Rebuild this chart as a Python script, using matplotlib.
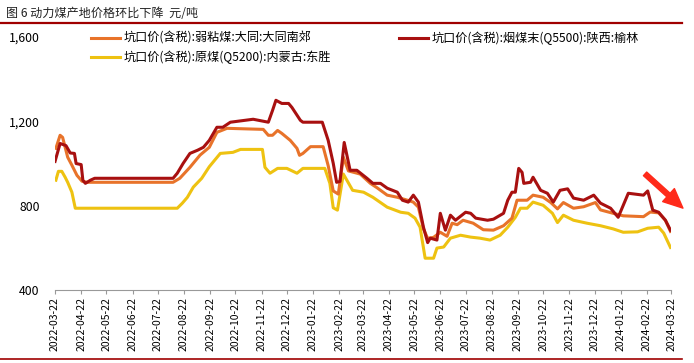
import pandas as pd
import numpy as np
import matplotlib
matplotlib.use('Agg')
import matplotlib.pyplot as plt
import matplotlib.dates as mdates
import matplotlib.ticker as mticker

plt.rcParams['font.family'] = ['Noto Sans CJK SC', 'DejaVu Sans']

# 坑口价(含税):烟煤末(Q5500):陕西:榆林
red_dates = ['2022-03-22', '2022-03-28', '2022-04-04', '2022-04-09', '2022-04-14', '2022-04-16',
             '2022-04-22', '2022-04-24', '2022-04-27', '2022-05-03', '2022-05-08', '2022-08-09',
             '2022-08-14', '2022-08-21', '2022-08-29', '2022-09-07', '2022-09-14', '2022-09-21',
             '2022-09-30', '2022-10-07', '2022-10-16', '2022-11-12', '2022-11-30', '2022-12-05',
             '2022-12-09', '2022-12-16', '2022-12-24', '2022-12-28', '2023-01-07', '2023-01-10',
             '2023-02-02', '2023-02-09', '2023-02-15', '2023-02-19', '2023-02-23', '2023-02-28',
             '2023-03-07', '2023-03-15', '2023-03-27', '2023-04-03', '2023-04-12', '2023-04-20',
             '2023-05-02', '2023-05-08', '2023-05-15', '2023-05-21', '2023-05-27', '2023-06-02',
             '2023-06-07', '2023-06-10', '2023-06-18', '2023-06-22', '2023-06-28', '2023-07-04',
             '2023-07-10', '2023-07-22', '2023-07-28', '2023-08-03', '2023-08-17', '2023-08-24',
             '2023-09-05', '2023-09-10', '2023-09-15', '2023-09-19', '2023-09-23', '2023-09-27',
             '2023-09-29', '2023-10-07', '2023-10-10', '2023-10-19', '2023-10-27', '2023-11-03',
             '2023-11-11', '2023-11-20', '2023-11-27', '2023-12-09', '2023-12-21', '2023-12-29',
             '2024-01-10', '2024-01-19', '2024-01-31', '2024-02-18', '2024-02-23', '2024-02-29',
             '2024-03-07', '2024-03-15', '2024-03-21']
red_vals = [1010, 1095, 1085, 1050, 1048, 1000, 995, 921, 906, 921, 930, 930,
            954, 1001, 1048, 1063, 1077, 1110, 1172, 1172, 1196, 1210, 1196, 1252,
            1300, 1285, 1285, 1266, 1205, 1196, 1196, 1110, 1001, 911, 915, 1100,
            968, 968, 930, 906, 906, 883, 864, 826, 817, 850, 817, 698,
            625, 646, 637, 764, 684, 755, 731, 769, 764, 741, 731, 736,
            764, 826, 864, 864, 977, 958, 906, 911, 935, 873, 859, 817,
            873, 880, 836, 826, 850, 812, 788, 745, 859, 850, 870, 779,
            769, 731, 684]

# 坑口价(含税):弱粘煤:大同:大同南郊
orange_dates = ['2022-03-23', '2022-03-28', '2022-03-31', '2022-04-06', '2022-04-11', '2022-04-17',
                '2022-04-23', '2022-04-29', '2022-08-09', '2022-08-17', '2022-08-29', '2022-09-10',
                '2022-09-21', '2022-09-30', '2022-10-12', '2022-11-24', '2022-11-30', '2022-12-05',
                '2022-12-11', '2022-12-16', '2022-12-26', '2023-01-03', '2023-01-06', '2023-01-10',
                '2023-01-19', '2023-02-03', '2023-02-09', '2023-02-15', '2023-02-21', '2023-02-27',
                '2023-03-05', '2023-03-19', '2023-03-31', '2023-04-08', '2023-04-20', '2023-05-02',
                '2023-05-14', '2023-05-21', '2023-05-27', '2023-06-02', '2023-06-07', '2023-06-14',
                '2023-06-22', '2023-06-30', '2023-07-06', '2023-07-12', '2023-07-19', '2023-07-31',
                '2023-08-12', '2023-08-24', '2023-09-05', '2023-09-15', '2023-09-21', '2023-10-03',
                '2023-10-10', '2023-10-22', '2023-10-31', '2023-11-08', '2023-11-15', '2023-11-27',
                '2023-12-09', '2023-12-23', '2023-12-29', '2024-01-13', '2024-01-25', '2024-02-18',
                '2024-02-26', '2024-03-07', '2024-03-15', '2024-03-21']
orange_vals = [1072, 1134, 1124, 1030, 992, 944, 916, 911, 911, 930, 982, 1040,
               1077, 1148, 1167, 1162, 1134, 1134, 1157, 1143, 1110, 1072, 1039, 1048,
               1080, 1080, 990, 870, 855, 1030, 965, 950, 906, 885, 850, 840,
               826, 817, 793, 690, 645, 650, 674, 655, 717, 710, 731, 717,
               686, 684, 705, 741, 826, 826, 850, 840, 815, 785, 815, 788,
               795, 815, 780, 764, 752, 748, 770, 766, 731, 678]

# 坑口价(含税):原煤(Q5200):内蒙古:东胜
yellow_dates = ['2022-03-23', '2022-03-26', '2022-03-30', '2022-04-03', '2022-04-06', '2022-04-11',
                '2022-04-15', '2022-08-14', '2022-08-20', '2022-08-26', '2022-09-02', '2022-09-12',
                '2022-09-21', '2022-10-04', '2022-10-19', '2022-10-28', '2022-11-23', '2022-11-26',
                '2022-12-02', '2022-12-11', '2022-12-22', '2023-01-03', '2023-01-10', '2023-02-05',
                '2023-02-11', '2023-02-15', '2023-02-20', '2023-02-27', '2023-03-10', '2023-03-23',
                '2023-04-03', '2023-04-20', '2023-05-06', '2023-05-15', '2023-05-23', '2023-05-29',
                '2023-06-04', '2023-06-14', '2023-06-18', '2023-06-26', '2023-07-04', '2023-07-16',
                '2023-07-28', '2023-08-08', '2023-08-20', '2023-09-01', '2023-09-10', '2023-09-19',
                '2023-09-25', '2023-10-03', '2023-10-10', '2023-10-22', '2023-11-02', '2023-11-08',
                '2023-11-15', '2023-11-27', '2023-12-13', '2023-12-29', '2024-01-13', '2024-01-25',
                '2024-02-11', '2024-02-23', '2024-03-07', '2024-03-13', '2024-03-21']
yellow_vals = [921, 963, 963, 935, 911, 864, 788, 788, 812, 840, 888, 930,
               985, 1048, 1053, 1067, 1067, 982, 954, 977, 977, 954, 977, 977,
               906, 790, 779, 950, 873, 864, 840, 793, 769, 764, 741, 698,
               551, 551, 599, 604, 646, 660, 651, 646, 637, 660, 698, 745,
               788, 788, 817, 802, 764, 720, 755, 731, 717, 705, 690, 674,
               676, 693, 698, 670, 602]

labels = ['坑口价(含税):弱粘煤:大同:大同南郊',
          '坑口价(含税):烟煤末(Q5500):陕西:榆林',
          '坑口价(含税):原煤(Q5200):内蒙古:东胜']
tick_dates = pd.date_range('2022-03-01', '2024-03-01', freq='MS') + pd.Timedelta(days=21)
yticks = [400, 800, 1200, 1600]

fig = plt.figure(figsize=(6.94, 3.63), dpi=100)
ax = fig.add_axes([0.0793, 0.201, 0.888, 0.697])

l_or, = ax.plot(pd.to_datetime(orange_dates), orange_vals, color='#E8732A', lw=2.2, label=labels[0])
l_red, = ax.plot(pd.to_datetime(red_dates), red_vals, color='#A81010', lw=2.2, label=labels[1])
l_ye, = ax.plot(pd.to_datetime(yellow_dates), yellow_vals, color='#EEC211', lw=2.2, label=labels[2])
l_red.set_zorder(3)
l_or.set_zorder(2.5)

ax.set_xlim(pd.Timestamp('2022-03-22'), pd.Timestamp('2024-03-22'))
ax.set_ylim(400, 1600)
ax.set_yticks(yticks)
ax.yaxis.set_major_formatter(mticker.FuncFormatter(lambda v, p: f'{int(v):,}'))
ax.set_xticks(tick_dates)
ax.xaxis.set_major_formatter(mdates.DateFormatter('%Y-%m-%d'))
ax.tick_params(axis='x', rotation=90, labelsize=7.5, length=3, color='#999999', pad=2)
ax.tick_params(axis='y', labelsize=8.8, length=0, pad=11)
for s in ['top', 'right', 'left']:
    ax.spines[s].set_visible(False)
ax.spines['bottom'].set_color('#999999')

ax.legend(handles=[l_or, l_ye, l_red], ncol=2, frameon=False, fontsize=8.7,
          loc='upper left', bbox_to_anchor=(0.04, 1.065), handlelength=2.4,
          columnspacing=5.65, labelspacing=0.45, handletextpad=0.3)

# title and the red rules
fig.text(0.008, 0.962, '图 6 动力煤产地价格环比下降  元/吨', fontsize=8.7, color='#222222',
         va='center', ha='left')
fig.add_artist(plt.Line2D([0, 0.982], [0.937, 0.937], color='#A00000', lw=1.6))
fig.add_artist(plt.Line2D([0, 0.982], [0.012, 0.012], color='#A00000', lw=1.2))

# red arrow
fig.add_artist(matplotlib.patches.FancyArrowPatch(
    (643 / 694, 1 - 172 / 363), (685 / 694, 1 - 210 / 363), transform=fig.transFigure,
    arrowstyle='simple,head_length=1.0,head_width=0.9,tail_width=0.25',
    mutation_scale=14, color='#FF2A1A'))

fig.savefig('out.png', dpi=100)
